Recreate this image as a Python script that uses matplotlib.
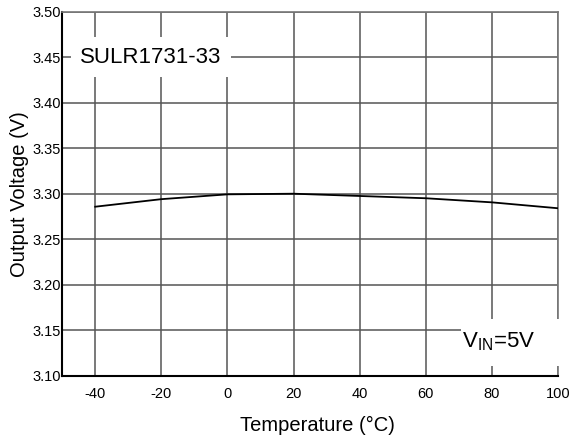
import matplotlib
matplotlib.use('Agg')
import matplotlib.pyplot as plt
from matplotlib.patches import Rectangle

plt.rcParams['font.family'] = ['Liberation Sans', 'DejaVu Sans']
plt.rcParams['axes.unicode_minus'] = False

# data
temp = [-40, -20, 0, 20, 40, 60, 80, 100]
vout = [3.2857, 3.2940, 3.2993, 3.3000, 3.2975, 3.2950, 3.2905, 3.2840]
xticks = [-40, -20, 0, 20, 40, 60, 80, 100]
yticks = [3.10, 3.15, 3.20, 3.25, 3.30, 3.35, 3.40, 3.45, 3.50]

fig = plt.figure(figsize=(5.7, 4.42), dpi=100)
ax = fig.add_axes([0.109, 0.150, 0.870, 0.8235])

ax.plot(temp, vout, color='black', lw=1.3, zorder=3)

ax.set_xlim(-50, 100)
ax.set_ylim(3.10, 3.50)
ax.set_xticks(xticks)
ax.set_yticks(yticks)
ax.set_yticklabels(['%.2f' % v for v in yticks])
ax.tick_params(length=0, labelsize=10.5)
ax.tick_params(axis='x', pad=8)
ax.tick_params(axis='y', pad=1)
ax.grid(True, color='#555555', lw=1.1)
ax.set_axisbelow(True)
for s in ['left', 'bottom']:
    ax.spines[s].set_linewidth(1.5)
for s in ['top', 'right']:
    ax.spines[s].set_color('#777777')
    ax.spines[s].set_linewidth(1.2)

ax.set_xlabel('Temperature (°C)', fontsize=14.5)
ax.xaxis.set_label_coords(0.515, -0.11)
ax.set_ylabel('Output Voltage (V)', fontsize=14.5, labelpad=2)

ax.text(-44.5, 3.45, 'SULR1731-33', fontsize=16, va='center', ha='left',
        bbox=dict(facecolor='white', edgecolor='none', pad=7), zorder=4)

# white patch behind the V_IN note, covers grid and right frame
ax.add_patch(Rectangle((0.805, 0.027), 0.2, 0.13, transform=ax.transAxes,
                       facecolor='white', edgecolor='none', clip_on=False, zorder=4))
ax.text(82, 3.137, r'V$_{\mathregular{IN}}$=5V', fontsize=16, va='center', ha='center',
        zorder=5)

fig.savefig('out.png', dpi=100)
